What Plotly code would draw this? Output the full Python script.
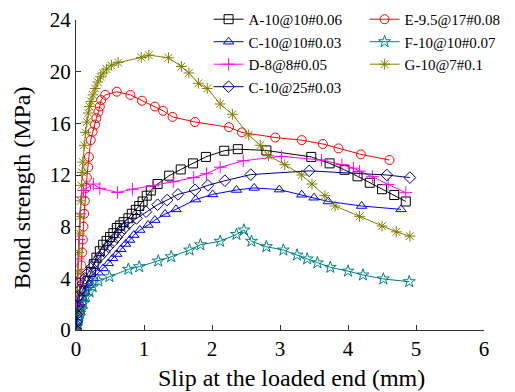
import plotly.graph_objects as go

# A-10@10#0.06 (black squares)
a_x = [0, 0.02, 0.05, 0.08, 0.12, 0.17, 0.22, 0.26, 0.30, 0.35, 0.40, 0.45, 0.50, 0.55, 0.60, 0.65, 0.70,
       0.77, 0.82, 0.88, 0.93, 0.98, 1.04, 1.10, 1.20, 1.37, 1.54, 1.72, 1.91, 2.18, 2.38, 2.80, 3.46,
       3.73, 3.95, 4.14, 4.32, 4.50, 4.68, 4.85]
a_y = [0, 0.8, 1.6, 2.3, 3.0, 3.8, 4.5, 5.1, 5.6, 6.1, 6.6, 6.9, 7.2, 7.5, 7.9, 8.1, 8.35,
       8.65, 9.0, 9.3, 9.6, 9.95, 10.4, 10.8, 11.3, 11.95, 12.43, 12.9, 13.4, 13.88, 14.0, 13.9, 13.4,
       12.9, 12.4, 11.9, 11.4, 10.9, 10.45, 9.95]

# E-9.5@17#0.08 (red circles)
e_x = [0, 0.02, 0.04, 0.05, 0.06, 0.07, 0.08, 0.09, 0.10, 0.11, 0.12, 0.13, 0.15, 0.16, 0.18, 0.19,
       0.216, 0.245, 0.28, 0.30, 0.33, 0.35, 0.37, 0.43, 0.60, 0.80, 0.97, 1.16, 1.28, 1.42, 1.75,
       2.25, 2.44, 2.93, 3.32, 3.63, 3.86, 4.19, 4.61]
e_y = [0, 0.8, 1.6, 2.4, 3.2, 4.0, 5.0, 6.0, 7.0, 8.0, 9.0, 10.0, 11.0, 11.8, 12.6, 13.4,
       14.7, 15.35, 15.9, 16.4, 16.9, 17.3, 17.8, 18.2, 18.45, 18.2, 17.75, 17.3, 16.97, 16.5, 16.1,
       15.7, 15.3, 14.9, 14.7, 14.4, 14.06, 13.6, 13.16]

# C-10@10#0.03 (blue triangles)
c_x = [0, 0.01, 0.02, 0.04, 0.06, 0.09, 0.13, 0.196, 0.255, 0.33, 0.40, 0.475, 0.54, 0.60, 0.66,
       0.73, 0.79, 0.85, 0.94, 1.06, 1.16, 1.31, 1.47, 1.76, 2.01, 2.36, 2.62, 2.99, 3.32, 3.50,
       3.71, 4.20, 4.78]
c_y = [0, 0.5, 1.0, 1.6, 2.0, 2.5, 2.96, 3.48, 4.0, 4.44, 4.77, 5.16, 5.55, 5.88, 6.25,
       6.66, 6.97, 7.35, 7.74, 8.13, 8.51, 8.98, 9.34, 10.1, 10.5, 10.84, 11.0, 10.87, 10.47, 10.24,
       9.95, 9.6, 9.34]

# F-10@10#0.07 (teal stars)
f_x = [0, 0.01, 0.02, 0.04, 0.06, 0.08, 0.11, 0.147, 0.20, 0.245, 0.33, 0.49, 0.77, 0.93, 1.21,
       1.40, 1.67, 1.83, 2.12, 2.36, 2.47, 2.58, 2.80, 3.05, 3.25, 3.40, 3.55, 3.74, 4.00, 4.22,
       4.52, 4.90]
f_y = [0, 0.3, 0.6, 1.0, 1.3, 1.55, 2.06, 2.58, 2.96, 3.35, 3.8, 4.13, 4.7, 4.9, 5.34,
       5.67, 6.19, 6.6, 6.87, 7.4, 7.74, 6.87, 6.45, 6.19, 5.8, 5.5, 5.2, 4.85, 4.56, 4.26,
       3.95, 3.74]

# D-8@8#0.05 (magenta plus)
d_x = [0, 0.01, 0.02, 0.03, 0.04, 0.06, 0.08, 0.11, 0.255, 0.35, 0.61, 0.83, 1.13, 1.43, 1.73,
       1.92, 2.12, 2.46, 3.02, 3.61, 3.91, 4.08, 4.17, 4.36, 4.59, 4.85]
d_y = [0, 2.0, 4.0, 5.5, 7.0, 9.0, 10.3, 10.8, 11.3, 10.97, 10.65, 10.9, 11.17, 11.48, 11.8,
       12.1, 12.6, 13.1, 13.45, 13.16, 12.8, 12.53, 12.3, 11.87, 11.27, 10.63]

# G-10@7#0.1 (olive asterisks)
g_x = [0, 0.01, 0.02, 0.03, 0.04, 0.05, 0.06, 0.07, 0.08, 0.09, 0.10, 0.12, 0.14, 0.16, 0.18, 0.20,
       0.22, 0.25, 0.28, 0.32, 0.36, 0.40, 0.45, 0.52, 0.62, 0.96, 1.07, 1.36, 1.55, 1.66, 1.80,
       1.93, 2.12, 2.30, 2.54, 2.71, 2.83, 3.07, 3.32, 3.47, 3.66, 3.81, 4.17, 4.50, 4.71, 4.91]
g_y = [0, 1.5, 3.0, 4.5, 6.0, 7.5, 8.8, 10.0, 11.2, 12.2, 13.0, 14.3, 15.3, 16.1, 16.8, 17.3,
       17.7, 18.2, 18.7, 19.2, 19.6, 19.9, 20.2, 20.5, 20.7, 21.1, 21.28, 21.08, 20.4, 19.9, 19.1,
       18.7, 17.5, 16.7, 15.1, 14.3, 13.5, 12.8, 12.0, 11.3, 10.4, 9.6, 8.8, 8.05, 7.6, 7.27]

# C-10@25#0.03 (navy diamonds)
h_x = [0, 0.005, 0.01, 0.02, 0.034, 0.06, 0.10, 0.13, 0.18, 0.23, 0.29, 0.35, 0.42, 0.475, 0.54,
       0.60, 0.65, 0.71, 0.78, 0.89, 1.03, 1.20, 1.34, 1.50, 1.75, 1.94, 2.19, 2.57, 3.43, 4.57, 4.91]
h_y = [0, 0.6, 1.2, 1.8, 2.6, 3.1, 3.6, 4.0, 4.44, 4.85, 5.28, 5.67, 6.06, 6.45, 6.8,
       7.17, 7.53, 7.87, 8.26, 8.64, 9.16, 9.7, 10.06, 10.5, 10.84, 11.2, 11.56, 12.03, 12.32, 12.0, 11.8]

x_title = "Slip at the loaded end (mm)"
y_title = "Bond strength (MPa)"

series = [
    ("A-10@10#0.06", a_x, a_y, "#000000", "square-open"),
    ("E-9.5@17#0.08", e_x, e_y, "#ff0000", "circle-open"),
    ("C-10@10#0.03", c_x, c_y, "#0000ff", "triangle-up-open"),
    ("F-10@10#0.07", f_x, f_y, "#008080", "star-open"),
    ("D-8@8#0.05", d_x, d_y, "#ff00ff", "cross-thin-open"),
    ("G-10@7#0.1", g_x, g_y, "#808000", "asterisk-open"),
    ("C-10@25#0.03", h_x, h_y, "#000080", "diamond-open"),
]

fig = go.Figure()
for name, xs, ys, col, sym in series:
    fig.add_trace(go.Scatter(
        x=xs, y=ys, name=name, mode="lines+markers",
        line=dict(color=col, width=1),
        marker=dict(symbol=sym, size=9, color=col, line=dict(color=col, width=1)),
    ))

font_family = "Liberation Serif, Times New Roman, serif"
fig.update_layout(
    width=507, height=384,
    margin=dict(l=68, r=31, t=12, b=62, autoexpand=False),
    paper_bgcolor="white", plot_bgcolor="white",
    font=dict(family=font_family, size=20, color="black"),
    showlegend=True,
    legend=dict(
        orientation="h", x=0.325, y=1.055, xanchor="left", yanchor="top",
        font=dict(family=font_family, size=15),
        entrywidth=111, entrywidthmode="pixels",
        tracegroupgap=0, itemwidth=30,
        bgcolor="rgba(0,0,0,0)",
    ),
    xaxis=dict(
        range=[0, 6], dtick=1, tick0=0, showgrid=False, zeroline=False,
        showline=True, linecolor="#333333", linewidth=1,
        ticks="inside", ticklen=5, tickcolor="#333333", automargin=False,
        tickfont=dict(size=21),
    ),
    yaxis=dict(
        range=[0, 24], dtick=4, tick0=0, showgrid=False, zeroline=False,
        showline=True, linecolor="#333333", linewidth=1,
        ticks="inside", ticklen=5, tickcolor="#333333", automargin=False,
        tickfont=dict(size=21),
    ),
    annotations=[
        dict(text=x_title, xref="paper", yref="paper", x=0.529, y=-0.155,
             xanchor="center", yanchor="middle", showarrow=False,
             font=dict(family=font_family, size=24)),
        dict(text=y_title, xref="paper", yref="paper", x=-0.132, y=0.458,
             xanchor="center", yanchor="middle", showarrow=False, textangle=-90,
             font=dict(family=font_family, size=24)),
    ],
)

fig.write_html("out.html")
